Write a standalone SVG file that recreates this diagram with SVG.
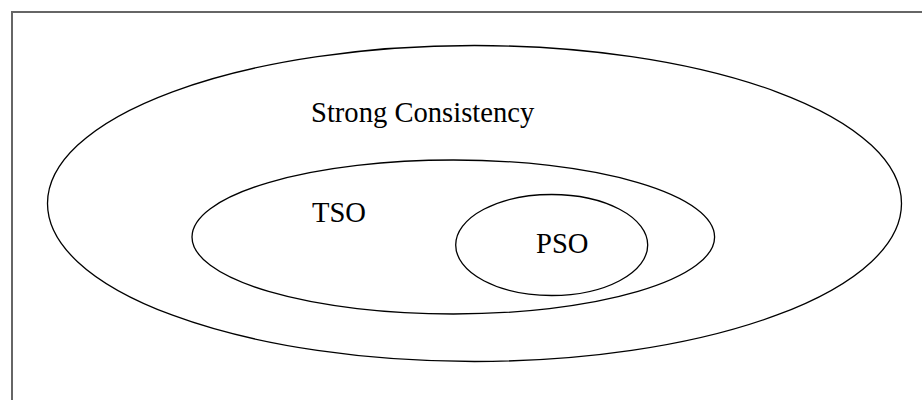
<svg xmlns="http://www.w3.org/2000/svg" width="922" height="400" viewBox="0 0 922 400">
<style>
.set{fill:none;stroke:#000;stroke-width:1.3}
.lbl{font-family:"Liberation Serif","Times New Roman",serif;font-size:28.6px;fill:#000}
</style>
<rect width="922" height="400" fill="#fff"/>
<path d="M12 400 V12 H922" fill="none" stroke="#666" stroke-width="2"/>
<g id="strong">
<ellipse class="set" cx="474.5" cy="203.5" rx="427" ry="158"/>
<text class="lbl" x="311" y="122">Strong Consistency</text>
</g>
<g id="tso">
<ellipse class="set" cx="453.3" cy="237" rx="261.3" ry="77"/>
<text class="lbl" x="312" y="222">TSO</text>
</g>
<g id="pso">
<ellipse class="set" cx="551.7" cy="245" rx="96" ry="50.5"/>
<text class="lbl" x="536" y="253">PSO</text>
</g>
<g id="connectors"/>
</svg>
